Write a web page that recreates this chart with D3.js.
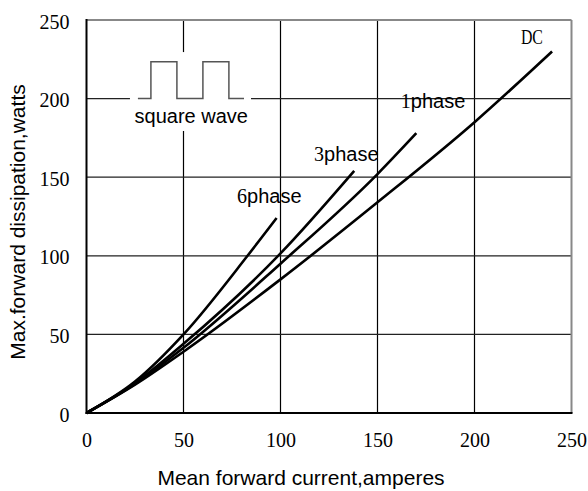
<!DOCTYPE html>
<html><head><meta charset="utf-8">
<script src="https://cdn.jsdelivr.net/npm/d3@7"></script>
<style>body{margin:0;background:#fff}</style>
</head><body>
<svg id="c" width="588" height="491"></svg>
<script>
const xTicks = [0, 50, 100, 150, 200, 250];
const yTicks = [0, 50, 100, 150, 200, 250];
const seriesNames = ["DC", "1phase", "3phase", "6phase"];
const dcI = [0, 25, 50, 100, 150, 200, 240];
const dcP = [0, 18, 39, 85, 134, 185, 230];
const ph1I = [0, 25, 50, 100, 150, 170];
const ph1P = [0, 18.5, 41.5, 95, 152, 178];
const ph3I = [0, 25, 50, 100, 138];
const ph3P = [0, 19, 44, 101.5, 154];
const ph6I = [0, 25, 50, 83, 98];
const ph6P = [0, 20, 50, 100, 124];
const waveI = [26.5, 33.2, 33.2, 46.6, 46.6, 60, 60, 73.4, 73.4, 81.2];
const waveP = [200, 200, 223.5, 223.5, 200, 200, 223.5, 223.5, 200, 200];

const svg = d3.select("#c");
const x = d3.scaleLinear().domain([0, 250]).range([86.5, 571.5]);
const y = d3.scaleLinear().domain([0, 250]).range([413, 20]);
const serif = "'Liberation Serif', 'Times New Roman', serif";
const sans = "'Liberation Sans', Arial, sans-serif";

// grid
const g = svg.append("g");
g.selectAll(".vg").data(xTicks.slice(1, -1)).enter().append("line")
  .attr("x1", d => x(d)).attr("x2", d => x(d)).attr("y1", y(250)).attr("y2", y(0))
  .attr("stroke", "#000").attr("stroke-width", 1.2);
g.selectAll(".hg").data(yTicks.slice(1, -1)).enter().append("line")
  .attr("x1", x(0)).attr("x2", x(250)).attr("y1", d => y(d)).attr("y2", d => y(d))
  .attr("stroke", "#222").attr("stroke-width", 1.2);

// frame
svg.append("line").attr("x1", x(0)).attr("x2", x(250)).attr("y1", y(250)).attr("y2", y(250)).attr("stroke", "#888").attr("stroke-width", 2);
svg.append("line").attr("x1", x(250)).attr("x2", x(250)).attr("y1", y(250)).attr("y2", y(0)).attr("stroke", "#888").attr("stroke-width", 2);
svg.append("line").attr("x1", x(0)).attr("x2", x(0)).attr("y1", y(250) - 1).attr("y2", y(0) + 1).attr("stroke", "#000").attr("stroke-width", 2);
svg.append("line").attr("x1", x(0) - 1).attr("x2", x(250) + 1).attr("y1", y(0)).attr("y2", y(0)).attr("stroke", "#000").attr("stroke-width", 2);

// square wave inset
svg.append("rect").attr("x", x(22.4)).attr("y", y(229.6))
  .attr("width", x(84.8) - x(22.4)).attr("height", y(179.4) - y(229.6)).attr("fill", "#fff");
svg.append("path").datum(d3.zip(waveI, waveP))
  .attr("d", d3.line().x(d => x(d[0])).y(d => y(d[1])))
  .attr("fill", "none").attr("stroke", "#555").attr("stroke-width", 1.5);
svg.append("text").attr("x", x(54)).attr("y", y(184.5)).attr("text-anchor", "middle")
  .attr("font-family", sans).attr("font-size", 20).attr("fill", "#000").text("square wave");

// axes
const ax = svg.append("g").attr("transform", `translate(0,${y(0)})`)
  .call(d3.axisBottom(x).tickValues(xTicks).tickSize(0).tickPadding(24).tickFormat(d3.format("d")));
const ay = svg.append("g").attr("transform", `translate(${x(0)},0)`)
  .call(d3.axisLeft(y).tickValues(yTicks).tickSize(0).tickPadding(17).tickFormat(d3.format("d")));
[ax, ay].forEach(a => {
  a.select(".domain").remove();
  a.selectAll("text").attr("font-family", serif).attr("font-size", 20).attr("fill", "#000");
});
ay.selectAll("text").attr("dy", "0.4em");
ax.selectAll("text").attr("dy", "0.5em");

// curves
const line = d3.line().x(d => x(d[0])).y(d => y(d[1])).curve(d3.curveMonotoneX);
const series = [d3.zip(dcI, dcP), d3.zip(ph1I, ph1P), d3.zip(ph3I, ph3P), d3.zip(ph6I, ph6P)];
svg.selectAll(".curve").data(series).enter().append("path")
  .attr("d", line).attr("fill", "none").attr("stroke", "#000").attr("stroke-width", 2.6);

// labels
svg.append("text").attr("x", x(229.6)).attr("y", y(234.7)).attr("text-anchor", "middle")
  .attr("font-family", serif).attr("font-size", 21).attr("textLength", 22).attr("lengthAdjust", "spacingAndGlyphs")
  .text(seriesNames[0]);
const phaseLabels = [
  {n: seriesNames[1], i: 162, p: 194},
  {n: seriesNames[2], i: 117.3, p: 160.3},
  {n: seriesNames[3], i: 77.6, p: 133.6}
];
phaseLabels.forEach(l => {
  const t = svg.append("text").attr("x", x(l.i)).attr("y", y(l.p)).attr("font-size", 20).attr("fill", "#000");
  t.append("tspan").attr("font-family", serif).text(l.n.slice(0, 1));
  t.append("tspan").attr("font-family", sans).text(l.n.slice(1));
});

// axis titles
svg.append("text").attr("x", 301).attr("y", 485).attr("text-anchor", "middle")
  .attr("font-family", sans).attr("font-size", 21).text("Mean forward current,amperes");
svg.append("text").attr("transform", "translate(25,222) rotate(-90)").attr("text-anchor", "middle")
  .attr("font-family", sans).attr("font-size", 21).text("Max.forward dissipation,watts");
</script>
</body></html>
